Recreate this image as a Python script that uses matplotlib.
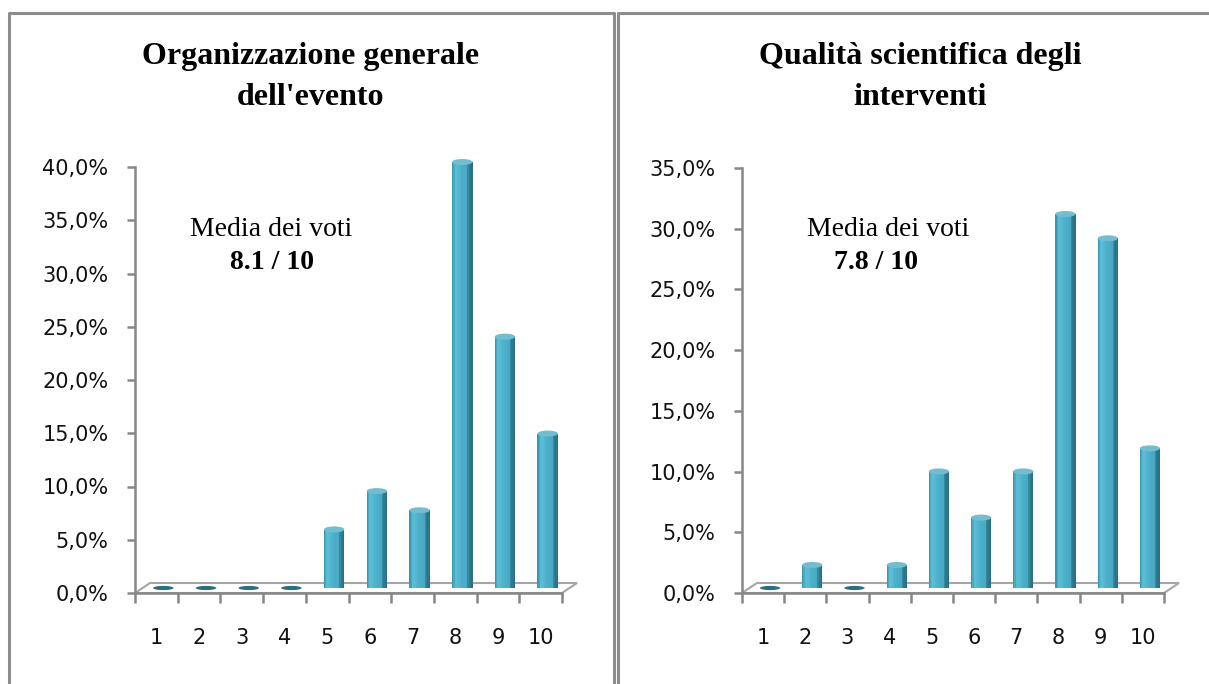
import numpy as np
import matplotlib.pyplot as plt
import matplotlib.transforms as mtransforms
from matplotlib.patches import Ellipse, Polygon
from matplotlib.lines import Line2D
from matplotlib.colors import LinearSegmentedColormap

# dati
voti = ["1", "2", "3", "4", "5", "6", "7", "8", "9", "10"]
organizzazione_pct = [0.0, 0.0, 0.0, 0.0, 5.5, 9.1, 7.3, 40.0, 23.6, 14.5]
qualita_pct = [0.0, 1.9, 0.0, 1.9, 9.6, 5.8, 9.6, 30.8, 28.8, 11.5]
titoli = ["Organizzazione generale\ndell'evento", "Qualità scientifica degli\ninterventi"]
medie = ["8.1 / 10", "7.8 / 10"]
y_max = [40, 35]

W, H = 1209, 684
fig = plt.figure(figsize=(W / 100, H / 100), dpi=100)

GRAY = "#878787"
shade = LinearSegmentedColormap.from_list(
    "cyl",
    [(0.0, "#3D98AF"), (0.15, "#5BC0D9"), (0.45, "#4DB0CA"),
     (0.74, "#47A9C3"), (0.82, "#307F93"), (1.0, "#2B6F81")],
)


def px(x0, y0, w, h):
    return [x0 / W, 1 - (y0 + h) / H, w / W, h / H]


def draw_chart(rect, values, ymax):
    ax = fig.add_axes(px(*rect))
    ax_w, ax_h = rect[2], rect[3]
    x = np.arange(1, len(values) + 1)
    vals = np.array(values)

    # bars sit in the middle of the 3D floor
    shift = mtransforms.ScaledTranslation(7 / 100, 5 / 100, fig.dpi_scale_trans)
    tr = ax.transData + shift
    w = 0.48
    n = 16
    for k in range(n):
        ax.bar(x - w / 2 + k * w / n, vals, width=w / n * 1.02, align="edge",
               color=shade(k / (n - 1)), linewidth=0, transform=tr,
               clip_on=False, zorder=3)
    cap_h = ymax / ax_h * 6
    for xi, v in zip(x, vals):
        col = "#74BDD0" if v > 0 else "#2E6D7E"
        hh = cap_h if v > 0 else cap_h * 0.7
        ax.add_patch(Ellipse((xi, v), w, hh, facecolor=col, edgecolor="none",
                             transform=tr, clip_on=False, zorder=4))

    # floor
    dx, dy = 15 / ax_w, 10 / ax_h
    ax.add_patch(Polygon([(0, 0), (1, 0), (1 + dx, dy), (dx, dy)], closed=True,
                         facecolor="white", edgecolor="#A6A6A6", linewidth=1.5,
                         transform=ax.transAxes, clip_on=False, zorder=1))

    ax.set_xlim(0.5, len(values) + 0.5)
    ax.set_ylim(0, ymax)
    for s in ["top", "right"]:
        ax.spines[s].set_visible(False)
    for s in ["left", "bottom"]:
        ax.spines[s].set_color(GRAY)
        ax.spines[s].set_linewidth(1.8)
        ax.spines[s].set_zorder(2)

    yt = np.arange(0, ymax + 1, 5)
    ax.set_yticks(yt)
    ax.set_yticklabels([f"{v:.1f}".replace(".", ",") + "%" for v in yt])
    ax.set_xticks(np.arange(0.5, len(values) + 1, 1))
    ax.set_xticklabels([])
    ax.set_xticks(x, minor=True)
    ax.set_xticklabels(voti, minor=True)
    ax.tick_params(axis="y", direction="out", length=6, width=1.8, color=GRAY,
                   pad=13, labelsize=15, labelcolor="#111111")
    ax.tick_params(axis="x", which="major", direction="out", length=7.5,
                   width=1.8, color=GRAY)
    ax.tick_params(axis="x", which="minor", length=0, pad=25, labelsize=15,
                   labelcolor="#111111")
    return ax


draw_chart((135, 167, 427, 426), organizzazione_pct, y_max[0])
draw_chart((742, 168, 422, 425), qualita_pct, y_max[1])

serif = ["Liberation Serif", "DejaVu Serif"]
for cx, t in zip([311, 920], titoli):
    l1, l2 = t.split("\n")
    fig.text(cx / W, 1 - 64 / H, l1, ha="center", va="baseline", fontsize=23,
             fontweight="bold", family=serif)
    fig.text(cx / W, 1 - 105 / H, l2, ha="center", va="baseline", fontsize=23,
             fontweight="bold", family=serif)

fig.text(271 / W, 1 - 236 / H, "Media dei voti", ha="center", va="baseline",
         fontsize=20, family=serif)
fig.text(272 / W, 1 - 269 / H, medie[0], ha="center", va="baseline",
         fontsize=20, fontweight="bold", family=serif)
fig.text(888 / W, 1 - 236 / H, "Media dei voti", ha="center", va="baseline",
         fontsize=20, family=serif)
fig.text(876 / W, 1 - 269 / H, medie[1], ha="center", va="baseline",
         fontsize=20, fontweight="bold", family=serif)

# panel borders
def fline(xs, ys, color, lw):
    fig.add_artist(Line2D([x / W for x in xs], [1 - y / H for y in ys],
                          color=color, linewidth=lw, transform=fig.transFigure))

fline([9, 9, 614, 614], [700, 13, 13, 700], "#8C8C8C", 2.2)
fline([617.5, 617.5, 1215], [700, 13, 13], "#8C8C8C", 2.2)

fig.savefig("out.png", dpi=100, facecolor="white")
